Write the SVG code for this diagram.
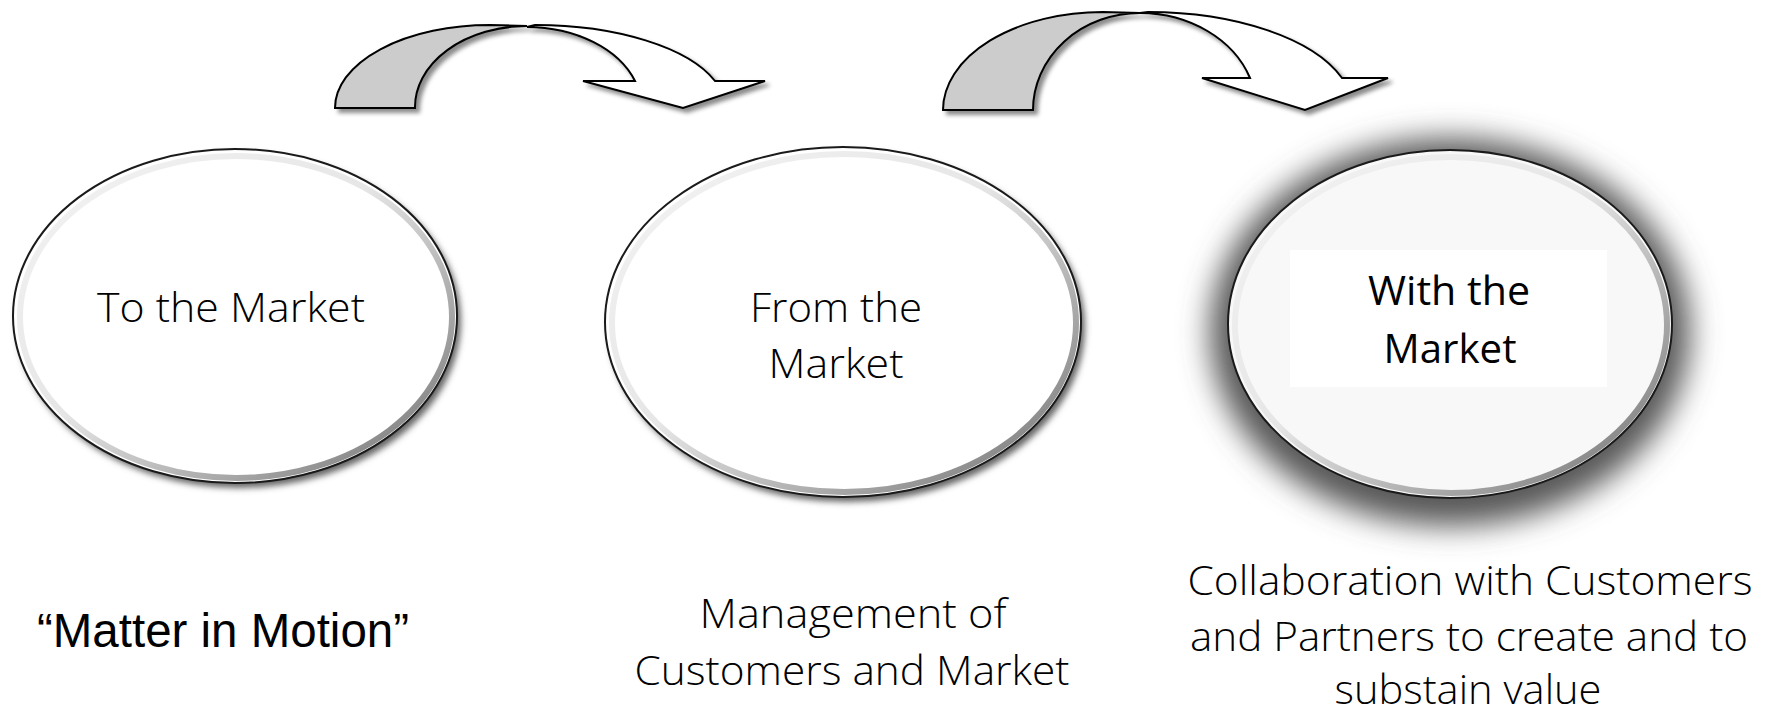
<svg xmlns="http://www.w3.org/2000/svg" width="1770" height="713" viewBox="0 0 1770 713">
<style>
.arrow{stroke:#000;stroke-width:2;stroke-linejoin:miter}
.back{fill:#cccccc}
.front{fill:#ffffff}
.lbl{font-family:"Open Sans","Liberation Sans",sans-serif;font-weight:300;fill:#000;text-anchor:middle}
.lblb{font-family:"Open Sans","Liberation Sans",sans-serif;font-weight:400;fill:#000;text-anchor:middle}
.outer{stroke:#1a1a1a;stroke-width:2}
.ring{fill:none;stroke:url(#ringGrad);stroke-width:6}
</style>
<defs>
<filter id="arrowShadow" x="-10%" y="-20%" width="130%" height="150%">
<feDropShadow dx="4" dy="4" stdDeviation="2" flood-color="#000" flood-opacity="0.45"/>
</filter>
<filter id="ellShadow" x="-10%" y="-10%" width="125%" height="125%">
<feGaussianBlur stdDeviation="3"/>
</filter>
<filter id="glow" x="-30%" y="-30%" width="160%" height="160%">
<feGaussianBlur stdDeviation="15"/>
</filter>
<linearGradient id="ringGrad" x1="0" y1="0" x2="1" y2="1">
<stop offset="0" stop-color="#f4f4f4"/>
<stop offset="0.45" stop-color="#e6e6e6"/>
<stop offset="0.8" stop-color="#9a9a9a"/>
<stop offset="1" stop-color="#6a6a6a"/>
</linearGradient>
</defs>
<rect width="1770" height="713" fill="#ffffff"/>

<g id="connectors">
<g id="arrow1" filter="url(#arrowShadow)">
<path class="arrow front" d="M527,27 L535,25 A190,83 0 0 1 715,81 L765,81 L683,108 L583,81 L635,81 A115,81 0 0 0 527,27 Z"/>
<path class="arrow back" d="M335,108 A155,83 0 0 1 490,25 L527,26 A112,81 0 0 0 415,108 Z"/>
</g>
<g id="arrow2" filter="url(#arrowShadow)">
<path class="arrow front" d="M1140,13 L1148,12 A205,98 0 0 1 1342,78 L1388,78 L1305,110 L1202,78 L1250,78 A117,97 0 0 0 1140,13 Z"/>
<path class="arrow back" d="M943,110 A160,98 0 0 1 1103,12 L1140,13 A107,97 0 0 0 1033,110 Z"/>
</g>
</g>

<g id="node-to">
<ellipse cx="239" cy="321" rx="222" ry="167" fill="#666" filter="url(#ellShadow)"/>
<ellipse class="outer" cx="235" cy="316" rx="222" ry="167" fill="#fff"/>
<ellipse class="ring" cx="236" cy="317" rx="216" ry="161"/>
<text class="lbl" x="231" y="322" font-size="41" textLength="268" lengthAdjust="spacingAndGlyphs">To the Market</text>
</g>

<g id="node-from">
<ellipse cx="847" cy="327" rx="238" ry="175" fill="#666" filter="url(#ellShadow)"/>
<ellipse class="outer" cx="843" cy="322" rx="238" ry="175" fill="#fff"/>
<ellipse class="ring" cx="844" cy="323" rx="232" ry="169"/>
<text class="lbl" x="836" y="322" font-size="41" textLength="172" lengthAdjust="spacingAndGlyphs">From the</text>
<text class="lbl" x="836" y="378" font-size="41" textLength="135" lengthAdjust="spacingAndGlyphs">Market</text>
</g>

<g id="node-with">
<ellipse cx="1450" cy="332" rx="240" ry="194" fill="#585858" filter="url(#glow)"/>
<ellipse class="outer" cx="1450" cy="324" rx="222" ry="174" fill="#f8f8f8"/>
<ellipse class="ring" cx="1451" cy="325" rx="216" ry="168"/>
<rect x="1290" y="250" width="317" height="137" fill="#ffffff"/>
<text class="lblb" x="1449" y="305" font-size="41" textLength="162" lengthAdjust="spacingAndGlyphs">With the</text>
<text class="lblb" x="1450" y="363" font-size="41" textLength="133" lengthAdjust="spacingAndGlyphs">Market</text>
</g>

<g id="caption-matter">
<text x="37" y="647" font-family="Liberation Sans, Arial, sans-serif" font-size="48" fill="#000" textLength="372" lengthAdjust="spacingAndGlyphs">“Matter in Motion”</text>
</g>

<g id="caption-management">
<text class="lbl" x="853" y="628" font-size="40" textLength="307" lengthAdjust="spacingAndGlyphs">Management of</text>
<text class="lbl" x="852" y="685" font-size="40" textLength="435" lengthAdjust="spacingAndGlyphs">Customers and Market</text>
</g>

<g id="caption-collab">
<text class="lbl" x="1470" y="595" font-size="40" textLength="565" lengthAdjust="spacingAndGlyphs">Collaboration with Customers</text>
<text class="lbl" x="1469" y="651" font-size="40" textLength="558" lengthAdjust="spacingAndGlyphs">and Partners to create and to</text>
<text class="lbl" x="1468" y="704" font-size="40" textLength="267" lengthAdjust="spacingAndGlyphs">substain value</text>
</g>
</svg>
